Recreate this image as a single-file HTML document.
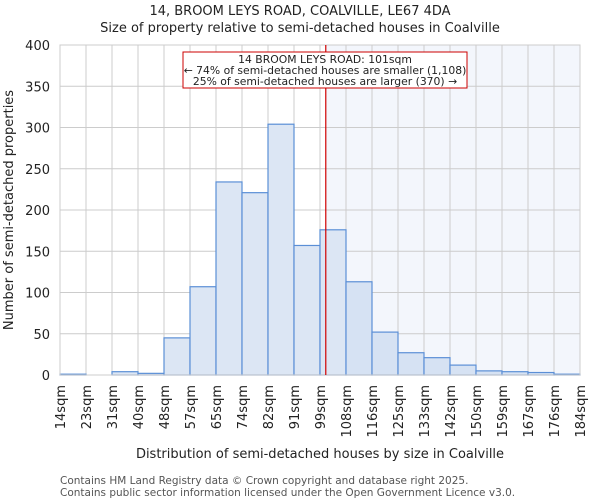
<!DOCTYPE html>
<html><head><meta charset="utf-8"><style>
body{margin:0;background:#fff;font-family:"DejaVu Sans","Liberation Sans",sans-serif}
svg text{font-family:"DejaVu Sans","Liberation Sans",sans-serif}
</style></head><body>
<svg id="c" width="600" height="500"></svg>
<script>
const cats=["14sqm","23sqm","31sqm","40sqm","48sqm","57sqm","65sqm","74sqm","82sqm","91sqm","99sqm","108sqm","116sqm","125sqm","133sqm","142sqm","150sqm","159sqm","167sqm","176sqm","184sqm"];
const counts=[1,0,4,2,45,107,234,221,304,157,176,113,52,27,21,12,5,4,3,1];
const yTicks=[0,50,100,150,200,250,300,350,400];
const marker=101;
const binEdges=[14,23,31,40,48,57,65,74,82,91,99,108,116,125,133,142,150,159,167,176,184];
const L=60,R=580,T=45,B=375,yMax=400;
const NS="http://www.w3.org/2000/svg",svg=document.getElementById('c');
const bw=(R-L)/counts.length;
const x=i=>L+i*bw, y=v=>B-(v/yMax)*(B-T);
function mk(t,a,p){const e=document.createElementNS(NS,t);for(const k in a)e.setAttribute(k,a[k]);(p||svg).appendChild(e);return e;}
function xv(v){for(let i=0;i<binEdges.length-1;i++){if(v<=binEdges[i+1])return x(i)+(v-binEdges[i])/(binEdges[i+1]-binEdges[i])*bw;}return R;}
const mx=xv(marker);
const sh=mk('rect',{x:mx,y:T,width:R-mx,height:B-T,fill:'#f3f6fc'});


yTicks.forEach(t=>{const g=mk('line',{x1:L,x2:R,y1:y(t),y2:y(t),stroke:'#cccccc'});

const tx=mk('text',{x:L-10,y:y(t)+5,'text-anchor':'end','font-size':13,fill:'#222'});tx.textContent=t;
});
cats.forEach((c,i)=>{const g=mk('line',{x1:x(i),x2:x(i),y1:T,y2:B,stroke:'#cccccc'});

const tx=mk('text',{transform:`translate(${x(i)+5},${B+10}) rotate(-90)`,'text-anchor':'end','font-size':13,fill:'#222'});tx.textContent=c;
});
counts.forEach((v,i)=>{const r=mk('rect',{x:x(i),y:y(v),width:bw,height:B-y(v),fill:x(i)>=mx?'#d6e2f3':'#dce6f4',stroke:'#5b8fd6','stroke-width':1.2});
});
const ax=mk('rect',{x:L,y:T,width:R-L,height:B-T,fill:'none',stroke:'#cccccc'});

const ml=mk('line',{x1:mx,x2:mx,y1:T,y2:B,stroke:'#d00000','stroke-width':1.2});

const box=mk('rect',{x:183,y:52,width:284,height:36,fill:'#fff',stroke:'#cc0000'});

["14 BROOM LEYS ROAD: 101sqm","← 74% of semi-detached houses are smaller (1,108)","25% of semi-detached houses are larger (370) →"].forEach((s,i)=>{
const t=mk('text',{x:325,y:63+i*11,'text-anchor':'middle','font-size':10.8,fill:'#222'});t.textContent=s;
});
function label(s,a,n){const t=mk('text',a);t.textContent=s;}
label("14, BROOM LEYS ROAD, COALVILLE, LE67 4DA",{x:300,y:15,'text-anchor':'middle','font-size':13,fill:'#222'},'chart-title');
label("Size of property relative to semi-detached houses in Coalville",{x:300,y:32,'text-anchor':'middle','font-size':13,fill:'#222'},'chart-subtitle');
label("Number of semi-detached properties",{transform:'translate(13,210) rotate(-90)','text-anchor':'middle','font-size':13,fill:'#222'},'y-axis-title');
label("Distribution of semi-detached houses by size in Coalville",{x:320,y:458,'text-anchor':'middle','font-size':13,fill:'#222'},'x-axis-title');
label("Contains HM Land Registry data © Crown copyright and database right 2025.",{x:60,y:484,'font-size':10.5,fill:'#555'},'footer-line-1');
label("Contains public sector information licensed under the Open Government Licence v3.0.",{x:60,y:496,'font-size':10.5,fill:'#555'},'footer-line-2');
</script></body></html>
